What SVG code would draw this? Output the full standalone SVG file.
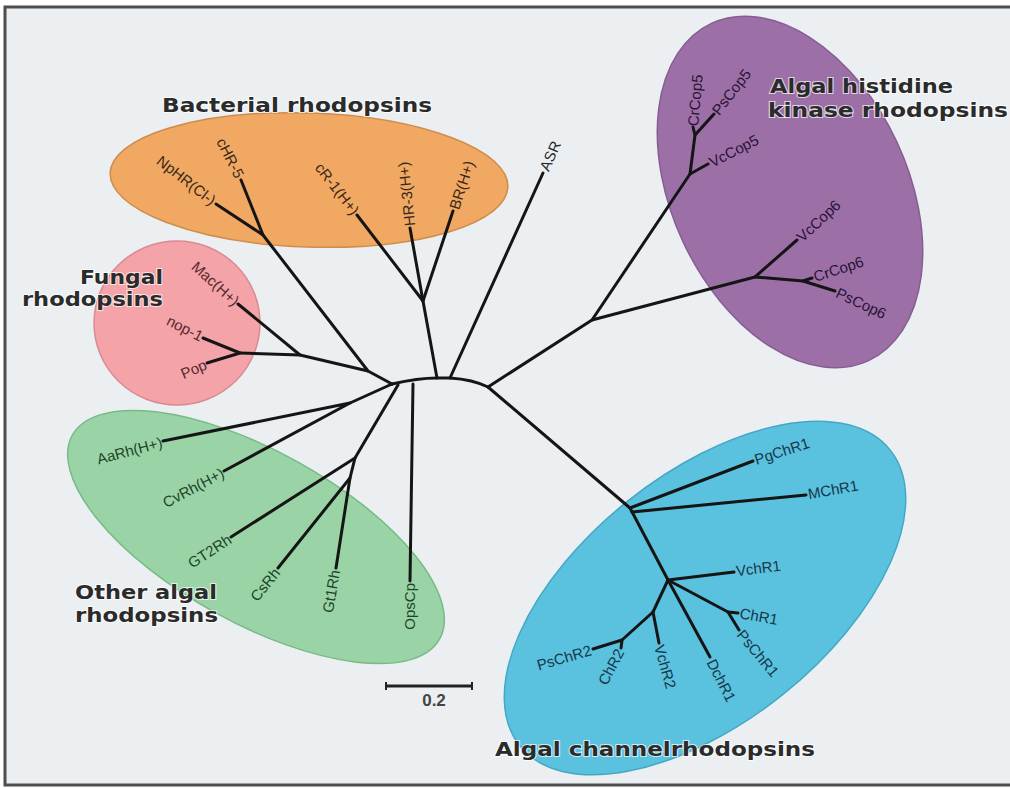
<svg xmlns="http://www.w3.org/2000/svg" width="1010" height="788" viewBox="0 0 1010 788">
  <style>
    .clade { stroke-width: 1.5; }
    .br { fill: none; stroke: #151515; stroke-width: 3; stroke-linecap: round; stroke-linejoin: round; }
    .lbl { font-family: "Liberation Sans", Arial, sans-serif; font-size: 15px; }
    .title { font-family: "DejaVu Sans", "Liberation Sans", sans-serif; font-weight: bold; font-size: 20px; fill: #2b2b2b; stroke: #ffffff; stroke-width: 2; stroke-opacity: 0.7; paint-order: stroke; }
    .bac { fill: #3a2818; }
    .fun { fill: #552a30; }
    .alg { fill: #1d4528; }
    .his { fill: #2a1236; }
    .chn { fill: #15384a; }
  </style>

  <rect x="0" y="0" width="1010" height="788" fill="#ffffff"/>
  <rect x="5" y="7" width="1040" height="778" fill="#eceff2" stroke="#4d4d4d" stroke-width="3"/>

  <!-- clade backgrounds -->
  <g id="clade-bacterial">
    <ellipse class="clade" cx="309" cy="180" rx="199" ry="67" transform="rotate(2 309 180)" fill="#f0a862" stroke="#d08c4c"/>
  </g>
  <g id="clade-fungal">
    <ellipse class="clade" cx="177" cy="323" rx="83" ry="82" fill="#f4a3a8" stroke="#d98b92"/>
  </g>
  <g id="clade-other-algal">
    <ellipse class="clade" cx="256" cy="537" rx="210" ry="86" transform="rotate(29 256 537)" fill="#9ad4a6" stroke="#78ba88"/>
  </g>
  <g id="clade-histidine-kinase">
    <ellipse class="clade" cx="790" cy="192" rx="186" ry="118" transform="rotate(65 790 192)" fill="#9c70a7" stroke="#865d93"/>
  </g>
  <g id="clade-channel">
    <ellipse class="clade" cx="705" cy="598" rx="237" ry="124" transform="rotate(-38.6 705 598)" fill="#5ac1de" stroke="#43a8c6"/>
  </g>

  <!-- tree branches -->
  <g id="connectors" class="br">
    <!-- central backbone -->
    <path d="M392,384 C405,381 420,378 437,378 L450,378 C465,379 478,382 488,387"/>
    <!-- bacterial, left subtree -->
    <path d="M392,384 L368,371 L263,235"/>
    <path d="M216,204 L263,235 L241,180"/>
    <!-- fungal -->
    <path d="M368,371 L300,355 L240,353"/>
    <path d="M238,304 L300,355"/>
    <path d="M203,338 L240,353 L207,363"/>
    <!-- other algal rhodopsins -->
    <path d="M392,384 L350,403"/>
    <path d="M163,441 L350,403 L224,471"/>
    <path d="M398,385 L355,458 L231,537"/>
    <path d="M355,458 L350,478 L278,568"/>
    <path d="M350,478 L336,568"/>
    <path d="M413,384 L410,581"/>
    <!-- bacterial, right subtree -->
    <path d="M437,378 L423,301"/>
    <path d="M357,215 L423,301 L410,228"/>
    <path d="M423,301 L453,211"/>
    <!-- ASR -->
    <path d="M450,378 L543,173"/>
    <!-- histidine kinase rhodopsins -->
    <path d="M488,387 L592,320 L690,174 L708,164"/>
    <path d="M690,174 L695,135 L693,127"/>
    <path d="M695,135 L714,114"/>
    <path d="M592,320 L755,277 L797,240"/>
    <path d="M755,277 L803,281 L812,278"/>
    <path d="M803,281 L835,291"/>
    <!-- channelrhodopsins -->
    <path d="M488,387 L630,508 L753,461"/>
    <path d="M632,512 L806,495"/>
    <path d="M630,508 L668,580 L734,572"/>
    <path d="M668,580 L653,612 L622,640 L593,649"/>
    <path d="M622,640 L621,648"/>
    <path d="M653,612 L659,643"/>
    <path d="M668,580 L710,657"/>
    <path d="M668,580 L728,612 L738,613"/>
    <path d="M728,612 L739,630"/>
  </g>

  <!-- leaf labels -->
  <g id="leaf-NpHR"><text class="lbl bac" text-anchor="end" dy="0.35em" transform="translate(214,202) rotate(38)">NpHR(Cl-)</text></g>
  <g id="leaf-cHR5"><text class="lbl bac" text-anchor="end" dy="0.35em" transform="translate(240,177) rotate(63)">cHR-5</text></g>
  <g id="leaf-cR1"><text class="lbl bac" text-anchor="end" dy="0.35em" transform="translate(356,213) rotate(52)">cR-1(H+)</text></g>
  <g id="leaf-HR3"><text class="lbl bac" text-anchor="start" dy="0.35em" transform="translate(410,226) rotate(-96)">HR-3(H+)</text></g>
  <g id="leaf-BR"><text class="lbl bac" text-anchor="start" dy="0.35em" transform="translate(454,209) rotate(-72)">BR(H+)</text></g>
  <g id="leaf-ASR"><text class="lbl" fill="#2a2a2a" text-anchor="start" dy="0.35em" transform="translate(544,170) rotate(-66)">ASR</text></g>

  <g id="leaf-Mac"><text class="lbl fun" text-anchor="end" dy="0.35em" transform="translate(237,303) rotate(42)">Mac(H+)</text></g>
  <g id="leaf-nop1"><text class="lbl fun" text-anchor="end" dy="0.35em" transform="translate(202,337) rotate(27)">nop-1</text></g>
  <g id="leaf-Pop"><text class="lbl fun" text-anchor="end" dy="0.35em" transform="translate(206,364) rotate(-23)">Pop</text></g>

  <g id="leaf-AaRh"><text class="lbl alg" text-anchor="end" dy="0.35em" transform="translate(162,442) rotate(-15)">AaRh(H+)</text></g>
  <g id="leaf-CvRh"><text class="lbl alg" text-anchor="end" dy="0.35em" transform="translate(223,472) rotate(-28)">CvRh(H+)</text></g>
  <g id="leaf-GT2Rh"><text class="lbl alg" text-anchor="end" dy="0.35em" transform="translate(230,538) rotate(-33)">GT2Rh</text></g>
  <g id="leaf-CsRh"><text class="lbl alg" text-anchor="end" dy="0.35em" transform="translate(277,570) rotate(-51)">CsRh</text></g>
  <g id="leaf-Gt1Rh"><text class="lbl alg" text-anchor="end" dy="0.35em" transform="translate(335,570) rotate(-80)">Gt1Rh</text></g>
  <g id="leaf-OpsCp"><text class="lbl alg" text-anchor="end" dy="0.35em" transform="translate(410,583) rotate(-90)">OpsCp</text></g>

  <g id="leaf-CrCop5"><text class="lbl his" text-anchor="start" dy="0.35em" transform="translate(693,126) rotate(-85)">CrCop5</text></g>
  <g id="leaf-PsCop5"><text class="lbl his" text-anchor="start" dy="0.35em" transform="translate(715,113) rotate(-52)">PsCop5</text></g>
  <g id="leaf-VcCop5"><text class="lbl his" text-anchor="start" dy="0.35em" transform="translate(710,163) rotate(-27)">VcCop5</text></g>
  <g id="leaf-VcCop6"><text class="lbl his" text-anchor="start" dy="0.35em" transform="translate(799,239) rotate(-43)">VcCop6</text></g>
  <g id="leaf-CrCop6"><text class="lbl his" text-anchor="start" dy="0.35em" transform="translate(814,277) rotate(-18)">CrCop6</text></g>
  <g id="leaf-PsCop6"><text class="lbl his" text-anchor="start" dy="0.35em" transform="translate(837,292) rotate(25)">PsCop6</text></g>

  <g id="leaf-PgChR1"><text class="lbl chn" text-anchor="start" dy="0.35em" transform="translate(755,460) rotate(-18)">PgChR1</text></g>
  <g id="leaf-MChR1"><text class="lbl chn" text-anchor="start" dy="0.35em" transform="translate(808,494) rotate(-10)">MChR1</text></g>
  <g id="leaf-VchR1"><text class="lbl chn" text-anchor="start" dy="0.35em" transform="translate(736,571) rotate(-7)">VchR1</text></g>
  <g id="leaf-ChR1"><text class="lbl chn" text-anchor="start" dy="0.35em" transform="translate(740,613) rotate(10)">ChR1</text></g>
  <g id="leaf-PsChR1"><text class="lbl chn" text-anchor="start" dy="0.35em" transform="translate(740,632) rotate(50)">PsChR1</text></g>
  <g id="leaf-DchR1"><text class="lbl chn" text-anchor="start" dy="0.35em" transform="translate(711,660) rotate(63)">DchR1</text></g>
  <g id="leaf-VchR2"><text class="lbl chn" text-anchor="start" dy="0.35em" transform="translate(659,645) rotate(74)">VchR2</text></g>
  <g id="leaf-ChR2"><text class="lbl chn" text-anchor="end" dy="0.35em" transform="translate(620,650) rotate(-62)">ChR2</text></g>
  <g id="leaf-PsChR2"><text class="lbl chn" text-anchor="end" dy="0.35em" transform="translate(591,650) rotate(-16)">PsChR2</text></g>

  <!-- clade titles -->
  <g id="title-bacterial"><text class="title" x="162" y="112" textLength="270" lengthAdjust="spacingAndGlyphs">Bacterial rhodopsins</text></g>
  <g id="title-fungal">
    <text class="title" x="80" y="284" textLength="83" lengthAdjust="spacingAndGlyphs">Fungal</text>
    <text class="title" x="22" y="306" textLength="141" lengthAdjust="spacingAndGlyphs">rhodopsins</text>
  </g>
  <g id="title-other-algal">
    <text class="title" x="75" y="599" font-size="17" textLength="142" lengthAdjust="spacingAndGlyphs">Other algal</text>
    <text class="title" x="75" y="622" font-size="17" textLength="143" lengthAdjust="spacingAndGlyphs">rhodopsins</text>
  </g>
  <g id="title-histidine-kinase">
    <text class="title" x="770" y="93" font-size="16" textLength="183" lengthAdjust="spacingAndGlyphs">Algal histidine</text>
    <text class="title" x="768" y="117" font-size="16" textLength="240" lengthAdjust="spacingAndGlyphs">kinase rhodopsins</text>
  </g>
  <g id="title-channel"><text class="title" x="495" y="756" font-size="19" textLength="320" lengthAdjust="spacingAndGlyphs">Algal channelrhodopsins</text></g>

  <!-- scale bar -->
  <g id="scale-bar">
    <line x1="386" y1="686" x2="472" y2="686" stroke="#222" stroke-width="3"/>
    <line x1="386" y1="682" x2="386" y2="690" stroke="#222" stroke-width="2"/>
    <line x1="472" y1="682" x2="472" y2="690" stroke="#222" stroke-width="2"/>
    <text x="434" y="706" text-anchor="middle" font-family="Liberation Sans, Arial, sans-serif" font-weight="bold" font-size="17" fill="#444">0.2</text>
  </g>
</svg>
